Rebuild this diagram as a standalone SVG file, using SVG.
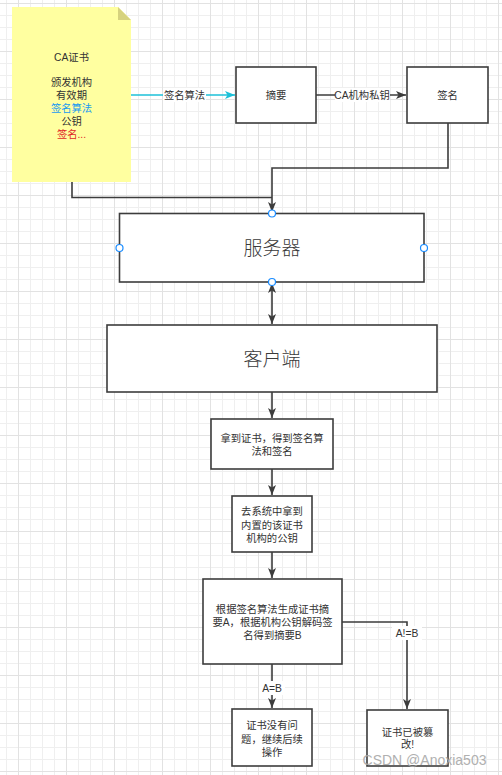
<svg xmlns="http://www.w3.org/2000/svg" width="502" height="775" viewBox="0 0 502 775">
<style>
text{font-family:"Liberation Sans","Noto Sans CJK SC",sans-serif;fill:#333;text-anchor:middle;dominant-baseline:central}
.s{font-size:10.3px}
.b{font-size:19px;font-weight:300;fill:#3a3a3a}
.box{fill:#fff;stroke:#3c3c3c;stroke-width:1.6}
.e{fill:none;stroke:#3c3c3c;stroke-width:1.6}
.cy{fill:none;stroke:#1cc0d8;stroke-width:1.6}
.pt{fill:#fff;stroke:#1a8cff;stroke-width:1.2}
</style>
<defs>
<pattern id="grid" patternUnits="userSpaceOnUse" x="18" y="3" width="48" height="48">
<path d="M12.5 0V48M24.5 0V48M36.5 0V48M0 12.5H48M0 24.5H48M0 36.5H48" stroke="#efefef" stroke-width="1" fill="none"/>
<path d="M0.5 0V48M0 0.5H48" stroke="#e2e2e2" stroke-width="1" fill="none"/>
</pattern>
<marker id="a" viewBox="0 0 10 8" refX="10" refY="4" markerWidth="10" markerHeight="8" markerUnits="userSpaceOnUse" orient="auto-start-reverse">
<path d="M0,0 L10,4 L0,8 L2.5,4 Z" fill="#3c3c3c"/>
</marker>
<marker id="ac" viewBox="0 0 10 8" refX="10" refY="4" markerWidth="10" markerHeight="8" markerUnits="userSpaceOnUse" orient="auto">
<path d="M0,0 L10,4 L0,8 L2.5,4 Z" fill="#1cc0d8"/>
</marker>
</defs>
<rect width="502" height="775" fill="#fff"/>
<rect width="502" height="775" fill="url(#grid)"/>

<g id="connectors">
<path class="cy" d="M131 95H235" marker-end="url(#ac)"/>
<rect x="163" y="88" width="43" height="14" fill="#fff"/>
<text class="s" x="184.5" y="95.5">签名算法</text>
<path class="e" d="M316 95H406" marker-end="url(#a)"/>
<rect x="335" y="88" width="55" height="14" fill="#fff"/>
<text class="s" x="362" y="95.5">CA机构私钥</text>
<path class="e" d="M448 123V168H272V212" marker-end="url(#a)"/>
<path class="e" d="M72 182V197.5H272"/>
<path class="e" d="M272 283V324" marker-start="url(#a)" marker-end="url(#a)"/>
<path class="e" d="M272 392V418" marker-end="url(#a)"/>
<path class="e" d="M272 469V495" marker-end="url(#a)"/>
<path class="e" d="M272 552V578" marker-end="url(#a)"/>
<path class="e" d="M272 664V708" marker-end="url(#a)"/>
<rect x="259" y="681" width="26" height="14" fill="#fff"/>
<text class="s" x="272" y="688.5">A=B</text>
<path class="e" d="M342 622H407V709" marker-end="url(#a)"/>
<rect x="392" y="626" width="30" height="14" fill="#fff"/>
<text class="s" x="407" y="633.5">A!=B</text>
</g>

<g id="ca-cert">
<path d="M12 7H118L131 20V182H12Z" fill="#ffffa0"/>
<path d="M118 7L131 20H118Z" fill="#d6d27e"/>
<text class="s" x="71.5" y="57">CA证书</text>
<text class="s" x="71.5" y="82.5">颁发机构</text>
<text class="s" x="71.5" y="95.5">有效期</text>
<text class="s" x="71.5" y="108.5" style="fill:#1a9bf0">签名算法</text>
<text class="s" x="71.5" y="121.5">公钥</text>
<text class="s" x="71.5" y="134.5" style="fill:#e02828">签名...</text>
</g>

<g id="digest">
<rect class="box" x="236" y="67" width="80" height="56"/>
<text class="s" x="276" y="95.5">摘要</text>
</g>

<g id="signature">
<rect class="box" x="407" y="67" width="81" height="56"/>
<text class="s" x="447.5" y="95.5">签名</text>
</g>

<g id="server">
<rect class="box" x="119.5" y="213.5" width="304.5" height="68.5"/>
<text class="b" x="272" y="248.5">服务器</text>
<circle class="pt" cx="272" cy="213.5" r="3.5"/>
<circle class="pt" cx="119.5" cy="248" r="3.5"/>
<circle class="pt" cx="424" cy="248" r="3.5"/>
<circle class="pt" cx="272" cy="282" r="3.5"/>
</g>

<g id="client">
<rect class="box" x="107" y="325" width="330" height="67"/>
<text class="b" x="272" y="359">客户端</text>
</g>

<g id="step1">
<rect class="box" x="211" y="419" width="122" height="50"/>
<text class="s" x="272" y="438.5">拿到证书，得到签名算</text>
<text class="s" x="272" y="451.5">法和签名</text>
</g>

<g id="step2">
<rect class="box" x="232" y="496" width="80" height="56"/>
<text class="s" x="272" y="511.5">去系统中拿到</text>
<text class="s" x="272" y="525">内置的该证书</text>
<text class="s" x="272" y="538.5">机构的公钥</text>
</g>

<g id="step3">
<rect class="box" x="203" y="579" width="139" height="85"/>
<text class="s" x="272.5" y="609">根据签名算法生成证书摘</text>
<text class="s" x="272.5" y="622">要A，根据机构公钥解码签</text>
<text class="s" x="272.5" y="635">名得到摘要B</text>
</g>

<g id="ok">
<rect class="box" x="232" y="709" width="80" height="57"/>
<text class="s" x="272" y="725.5">证书没有问</text>
<text class="s" x="272" y="739">题，继续后续</text>
<text class="s" x="272" y="752">操作</text>
</g>

<g id="tampered">
<rect class="box" x="367" y="710" width="81" height="56"/>
<text class="s" x="407.5" y="732">证书已被篡</text>
<text class="s" x="407.5" y="744.5">改!</text>
</g>

<text x="424.5" y="760" style="font-size:14px;fill:#a8a8a8;opacity:0.9">CSDN @Anoxia503</text>
</svg>
